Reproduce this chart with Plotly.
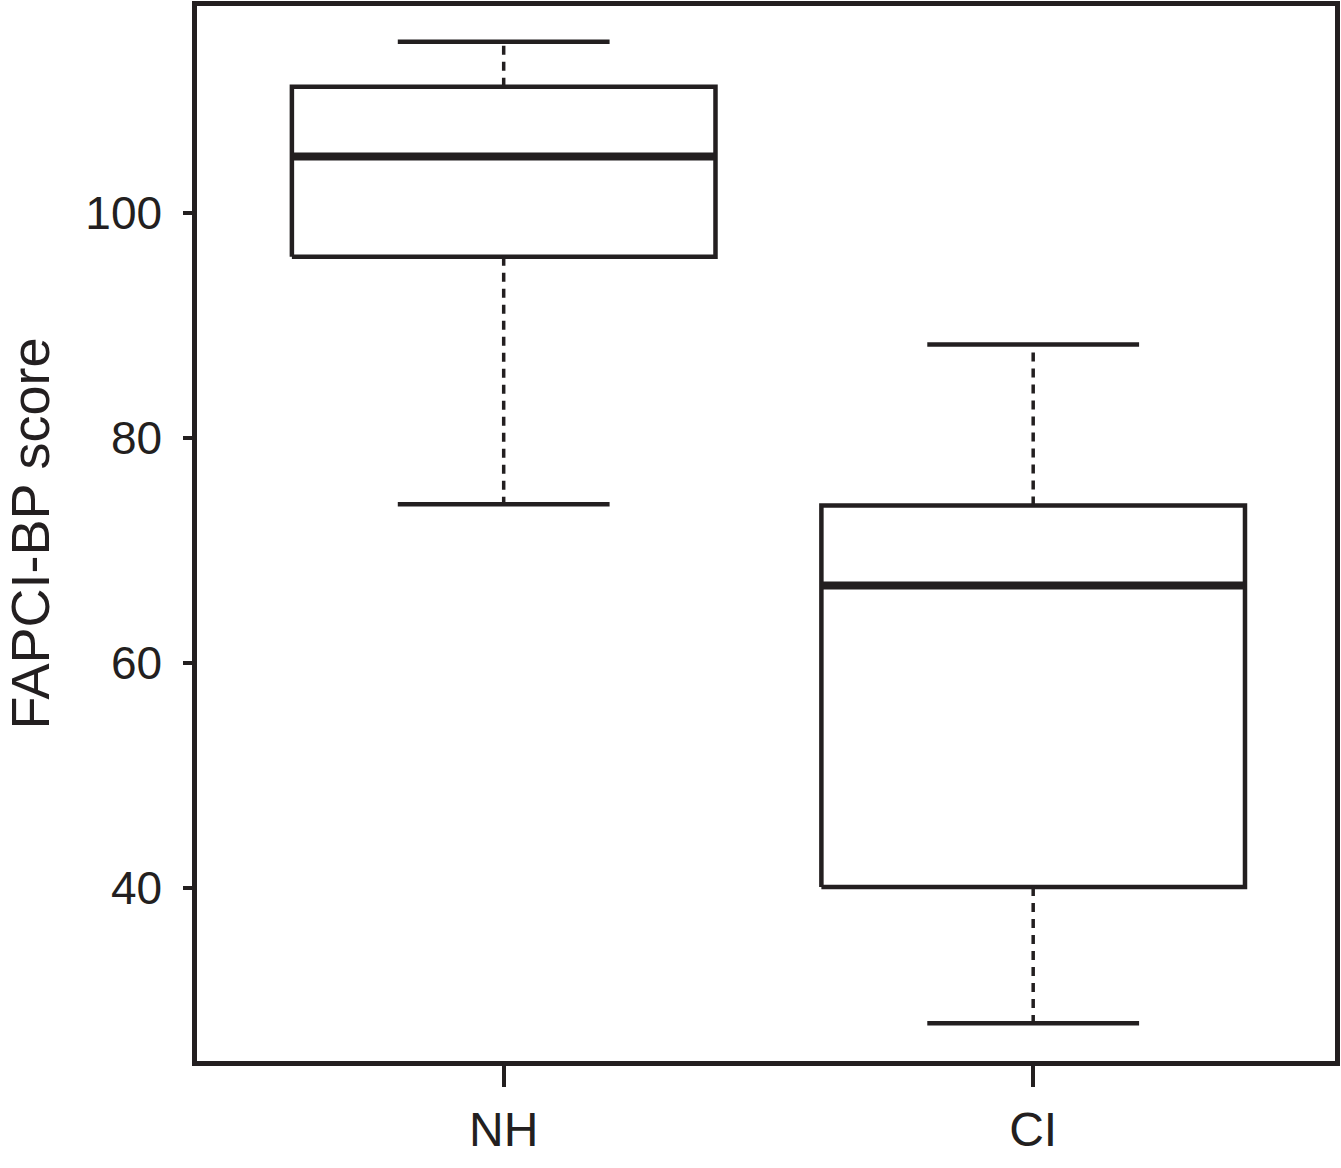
import plotly.graph_objects as go

categories = ["NH", "CI"]
positions = [1, 2]
lower_whisker = [74.1, 28.0]
q1 = [96.1, 40.1]
median = [105.0, 66.9]
q3 = [111.2, 74.0]
upper_whisker = [115.2, 88.3]

y_ticks = [40, 60, 80, 100]

INK = "#231f20"
BOX_HALF = 0.4
CAP_HALF = 0.2

fig = go.Figure()

for i, pos in enumerate(positions):
    x0, x1 = pos - BOX_HALF, pos + BOX_HALF
    # box
    fig.add_trace(go.Scatter(
        x=[x0, x1, x1, x0, x0],
        y=[q1[i], q1[i], q3[i], q3[i], q1[i]],
        mode="lines", line=dict(color=INK, width=4.5),
        hoverinfo="skip", showlegend=False))
    # median
    fig.add_trace(go.Scatter(
        x=[x0, x1], y=[median[i], median[i]],
        mode="lines", line=dict(color=INK, width=8),
        hoverinfo="skip", showlegend=False))
    # whiskers (dashed)
    fig.add_trace(go.Scatter(
        x=[pos, pos, None, pos, pos],
        y=[q3[i], upper_whisker[i], None, q1[i], lower_whisker[i]],
        mode="lines", line=dict(color=INK, width=3.5, dash="9px,7px"),
        hoverinfo="skip", showlegend=False))
    # caps
    fig.add_trace(go.Scatter(
        x=[pos - CAP_HALF, pos + CAP_HALF, None, pos - CAP_HALF, pos + CAP_HALF],
        y=[upper_whisker[i], upper_whisker[i], None, lower_whisker[i], lower_whisker[i]],
        mode="lines", line=dict(color=INK, width=4.5),
        hoverinfo="skip", showlegend=False))

fig.update_layout(
    width=1341, height=1168,
    margin=dict(l=197, r=1, t=5, b=107),
    plot_bgcolor="white", paper_bgcolor="white",
    font=dict(family="Liberation Sans, Arial, sans-serif", color=INK),
    showlegend=False,
)
fig.update_xaxes(
    range=[0.4208, 2.570], tickmode="array", tickvals=positions, ticktext=categories,
    showgrid=False, zeroline=False, showline=True, mirror=True,
    linecolor=INK, linewidth=4.5,
    ticks="outside", ticklen=21, tickwidth=4, tickcolor=INK,
    tickfont=dict(size=48, color=INK), ticklabelstandoff=2,
)
fig.update_yaxes(
    range=[24.65, 118.37], tickmode="array", tickvals=y_ticks,
    ticktext=[str(v) for v in y_ticks],
    showgrid=False, zeroline=False, showline=True, mirror=True,
    linecolor=INK, linewidth=4.5,
    ticks="outside", ticklen=9, tickwidth=4, tickcolor=INK,
    tickfont=dict(size=46, color=INK), ticklabelstandoff=12,
    title=dict(text="FAPCI-BP score", font=dict(size=54, color=INK), standoff=38),
)

fig.write_html(
    "out.html",
    config={"displayModeBar": False},
    post_script="document.body.style.margin='0';document.body.style.padding='0';",
)
